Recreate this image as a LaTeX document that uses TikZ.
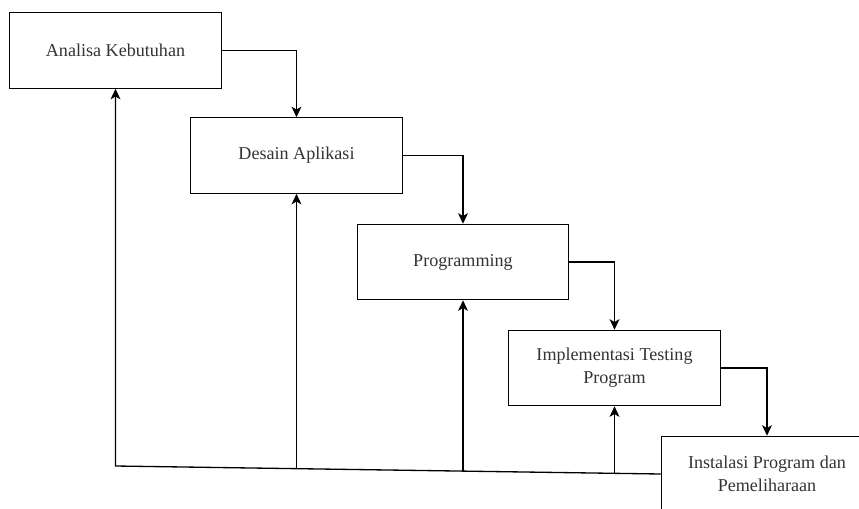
\documentclass[tikz,border=0pt]{standalone}
\usepackage{fontspec}
\setmainfont{Liberation Serif}
\usetikzlibrary{arrows.meta}
\definecolor{labelgray}{HTML}{333333}
\begin{document}
\begin{tikzpicture}[x=0.02cm,y=-0.02cm,
    stage/.style={draw, line width=0.6pt, minimum width=4.23cm, minimum height=1.51cm,
                  inner sep=0pt, align=center, text=labelgray,
                  font=\fontsize{10.3}{13}\selectfont},
    flow/.style={-{Stealth[length=6pt,width=5.6pt,inset=1.6pt]}, line width=0.75pt}]
                \path[use as bounding box, clip] (0,0) rectangle (859,508);
                \node[stage] (analisa) at (115.5,50.5) {Analisa Kebutuhan};
                \node[stage] (desain) at (296.5,155.5) {Desain Aplikasi};
                \node[stage] (prog) at (463,262) {Programming};
                \node[stage] (impl) at (614.5,368) {Implementasi Testing\\Program};
                \node[stage] (instal) at (767,474) {Instalasi Program dan\\Pemeliharaan};
                \coordinate (fb) at (115.5,466);
                \coordinate (f2) at (296.5,468.7);
                \coordinate (f3) at (463,471.1);
                \coordinate (f4) at (614.5,473.3);
                \draw[flow] (analisa.east) -| (desain.north);
                \draw[flow] (desain.east) -| (prog.north);
                \draw[flow] (prog.east) -| (impl.north);
                \draw[flow] (impl.east) -| (instal.north);
                \draw[flow] (instal.west) -- (fb) -- (analisa.south);
                \draw[flow] (f2) -- (desain.south);
                \draw[flow] (f3) -- (prog.south);
                \draw[flow] (f4) -- (impl.south);
    \end{tikzpicture}
\end{document}
